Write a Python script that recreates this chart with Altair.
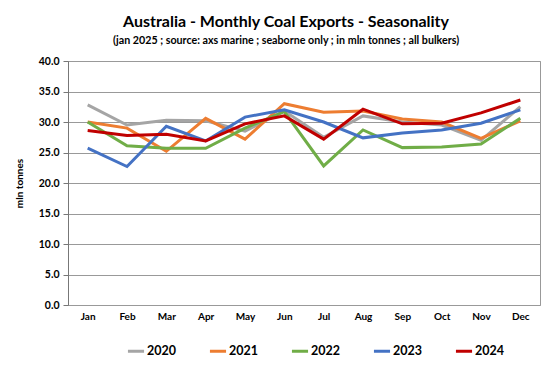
import altair as alt
import pandas as pd

months = ["Jan", "Feb", "Mar", "Apr", "May", "Jun", "Jul", "Aug", "Sep", "Oct", "Nov", "Dec"]
years = ["2020", "2021", "2022", "2023", "2024"]
y2020 = [32.8, 29.5, 30.3, 30.2, 28.5, 31.8, 27.5, 31.0, 30.0, 29.5, 27.0, 32.5]
y2021 = [30.0, 29.0, 25.2, 30.6, 27.2, 33.0, 31.6, 31.8, 30.5, 30.0, 27.3, 30.2]
y2022 = [30.0, 26.1, 25.7, 25.7, 29.0, 31.7, 22.8, 28.7, 25.8, 25.9, 26.4, 30.6]
y2023 = [25.7, 22.7, 29.3, 26.9, 30.8, 32.0, 30.0, 27.4, 28.2, 28.7, 29.8, 32.0]
y2024 = [28.6, 27.8, 28.0, 26.9, 29.7, 31.0, 27.2, 32.1, 29.7, 29.8, 31.5, 33.6]
colors = ["#A5A5A5", "#ED7D31", "#70AD47", "#4472C4", "#C00000"]

series = [y2020, y2021, y2022, y2023, y2024]
rows = []
for yr, vals in zip(years, series):
    for i, (m, v) in enumerate(zip(months, vals)):
        rows.append({"month": m, "year": yr, "value": v, "order": i})
df = pd.DataFrame(rows)

FONT = "Lato"

chart = alt.Chart(df).mark_line(strokeWidth=3).encode(
    x=alt.X("month:N", sort=months, title=None,
            scale=alt.Scale(padding=0.5),
            axis=alt.Axis(labelAngle=0, ticks=False, domain=False, grid=False,
                          labelFont=FONT, labelFontWeight="bold", labelFontSize=10,
                          labelColor="#000", labelPadding=6)),
    y=alt.Y("value:Q", title="mln tonnes",
            scale=alt.Scale(domain=[0, 40], nice=False),
            axis=alt.Axis(values=[0, 5, 10, 15, 20, 25, 30, 35, 40], format=".1f",
                          grid=True, gridColor="#999", gridWidth=1,
                          domain=True, domainColor="#777", ticks=True, tickColor="#777",
                          tickSize=5,
                          labelFont=FONT, labelFontWeight="bold", labelFontSize=10.5,
                          labelColor="#000", labelPadding=4,
                          titleFont=FONT, titleFontWeight="bold", titleFontSize=10,
                          titleColor="#000", titlePadding=14)),
    color=alt.Color("year:N", sort=years,
                    scale=alt.Scale(domain=years, range=colors),
                    legend=alt.Legend(title=None, orient="none", direction="horizontal",
                                      legendX=58, legendY=280,
                                      symbolType="stroke", symbolStrokeWidth=3,
                                      symbolSize=260, columnPadding=27,
                                      labelFont=FONT, labelFontWeight="bold",
                                      labelFontSize=12.5, labelColor="#000",
                                      labelOffset=1)),
    order=alt.Order("order:Q"),
).properties(
    width=472, height=244,
    title=alt.TitleParams(
        "Australia - Monthly Coal Exports - Seasonality",
        subtitle="(jan 2025 ; source: axs marine ; seaborne only ; in mln tonnes ; all bulkers)",
        font=FONT, fontSize=16, fontWeight="bold", color="#000",
        subtitleFont=FONT, subtitleFontSize=10.7, subtitleFontWeight="bold",
        subtitleColor="#000", anchor="middle", offset=10, subtitlePadding=6, dx=-18),
    padding={"left": 60, "top": 53, "right": 6, "bottom": 54},
    autosize=alt.AutoSizeParams(type="none"),
).configure_view(stroke="#999", strokeWidth=1)

chart.save("out.html", embed_options={"renderer": "svg", "actions": False})
